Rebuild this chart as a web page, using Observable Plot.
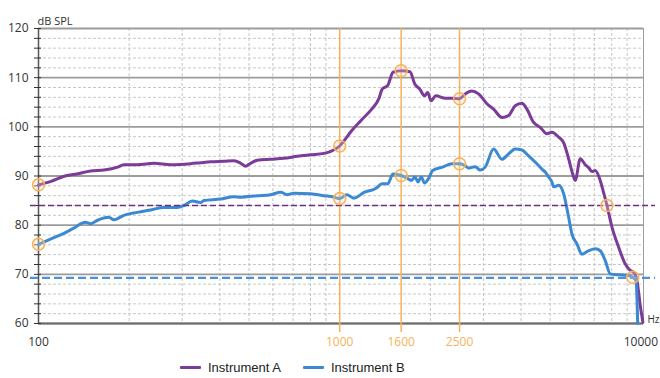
<!DOCTYPE html>
<html>
<head>
<meta charset="utf-8">
<script src="https://cdn.jsdelivr.net/npm/d3@7"></script>
<script src="https://cdn.jsdelivr.net/npm/@observablehq/plot@0.6"></script>
<style>
  body { margin: 0; background: #fff; }
  #chart { width: 660px; height: 378px; position: relative; overflow: hidden; }
  .legend { position: absolute; left: 180px; top: 360px; display: flex; align-items: center;
            font: 13px "Liberation Sans", Arial, sans-serif; color: #222; }
  .legend .item { display: flex; align-items: center; margin-right: 22px; }
  .legend .sw { width: 21px; height: 3px; margin-right: 7px; border-radius: 1px; }
</style>
</head>
<body>
<div id="chart"></div>
<script>
// Frequency response, Instrument A
const hzA = [100,110,121,134,149,165,183,192,213,242,275,320,345,373,413,446,469,487,506,533,
  590,653,724,801,887,934,1000,1056,1085,1177,1277,1348,1385,1443,1503,1600,1711,1776,1843,1913,
  1960,2009,2085,2246,2361,2500,2610,2746,2891,3081,3243,3456,3638,3826,4027,4184,4403,4631,4875,5064,
  5331,5539,5755,5979,6053,6289,6534,6706,6878,7053,7327,7520,7713,8016,8436,8874,9221,9464,9705,9969,10150];
const dbA = [88.2,88.9,89.9,90.4,91.0,91.2,91.8,92.3,92.3,92.6,92.3,92.5,92.7,92.9,93.0,93.1,92.6,92.0,92.6,93.2,
  93.4,93.6,94.0,94.3,94.6,95.0,96.1,97.9,98.9,101.3,103.6,105.7,107.7,108.4,111.1,111.4,111.2,108.7,107.7,106.3,
  107.0,105.3,106.3,105.8,105.8,105.7,106.7,107.3,106.7,104.7,103.6,101.9,102.3,104.3,104.8,103.6,100.9,99.9,98.6,98.9,
  97.9,96.8,93.5,89.8,89.1,93.5,92.3,91.7,90.9,91.1,89.1,86.6,84.0,79.6,75.5,72.1,70.8,70.4,68.7,63.3,60.3];

// Frequency response, Instrument B
const hzB = [100,110,121,131,143,149,157,171,178,192,213,236,261,289,304,324,345,354,402,446,
  469,533,590,637,670,705,801,887,957,1000,1056,1114,1209,1312,1385,1443,1503,1600,1668,1731,
  1776,1820,1865,1913,1985,2035,2192,2361,2500,2610,2678,2817,2927,3041,3243,3456,3638,3826,4027,4238,
  4515,4691,4811,4938,5064,5131,5331,5539,5755,5902,6132,6371,6706,7053,7327,7613,7911,8436,8990,9392,9632,9758];
const dbB = [76.1,77.2,78.3,79.4,80.6,80.3,81.0,81.6,81.1,82.0,82.6,83.1,83.6,83.6,84.0,84.9,84.6,85.0,85.3,85.8,
  85.7,86.0,86.2,86.7,86.2,86.5,86.4,86.0,85.7,85.4,86.2,85.5,86.7,87.4,88.4,88.4,90.4,90.1,89.6,89.1,
  89.8,88.8,89.8,88.6,89.8,91.1,91.8,92.5,92.5,92.1,91.6,91.9,91.2,91.8,95.5,93.4,94.5,95.5,95.3,94.1,
  92.5,91.4,90.8,89.8,88.8,87.8,88.1,86.4,81.6,78.2,76.2,74.1,74.8,75.2,74.8,72.8,70.1,69.9,69.8,69.4,68.7,60.0];

// Reference levels (dashed) and marked frequencies
const refA = 84;
const refB = 69.3;
const markerHz = [1000, 1600, 2500];
const endHz = [100, 10000];
const circled = [["A",100],["B",100],["A",1000],["B",1000],["A",1600],["B",1600],["A",2500],["B",2500],["A",7713],["B",9392]];

// Axis ticks and grid
const majorDb = [60,70,80,90,100,110,120];
const stepDb = d3.range(60, 121, 2);
const minorDb = stepDb.filter(d => d % 10 !== 0);
const gridHz = [200,300,400,500,600,700,800,900,2000,3000,4000,5000,6000,7000,8000,9000];

const colorA = "#7a3b99";
const colorB = "#3b88d3";
const orange = "#f6b25a";

const rowsA = hzA.map((hz, i) => ({hz, db: dbA[i]}));
const rowsB = hzB.map((hz, i) => ({hz, db: dbB[i]}));
const lookup = {A: rowsA, B: rowsB};
const circles = circled.map(([s, hz]) => ({hz, db: lookup[s].find(r => r.hz === hz).db}));

const chart = Plot.plot({
  width: 660,
  height: 358,
  marginLeft: 38,
  marginRight: 17,
  marginTop: 28,
  marginBottom: 35,
  x: {type: "log", domain: [100, 10200], axis: null},
  y: {domain: [60, 120], axis: null},
  style: {fontFamily: "'Open Sans', sans-serif", fontSize: "12px", color: "#333", background: "#fff"},
  marks: [
    Plot.ruleY(minorDb, {stroke: "#c8c8c8", strokeDasharray: "3,2", strokeWidth: 1}),
    Plot.ruleX(gridHz, {stroke: "#c4c4c4", strokeDasharray: "3,2", strokeWidth: 1}),
    Plot.ruleY(majorDb, {stroke: "#9c9c9c", strokeWidth: 1.8}),
    Plot.frame({stroke: "#9c9c9c", strokeWidth: 1}),
    Plot.ruleY([60], {stroke: "#6e6e6e", strokeWidth: 2}),
    Plot.ruleX([100], {stroke: "#555", strokeWidth: 1.5}),
    Plot.axisY(stepDb, {tickSize: 7, dx: 3, tickFormat: () => "", stroke: "#333", label: null}),
    Plot.axisY(majorDb, {tickSize: 0, tickPadding: 10, label: null, fill: "#333", fontSize: 12}),
    Plot.axisX(endHz, {tickSize: 0, tickPadding: 14, tickFormat: d => String(d), label: null, fill: "#333", fontSize: 12}),
    Plot.axisX(markerHz, {tickSize: 0, tickPadding: 14, tickFormat: d => String(d), label: null, fill: orange, fontSize: 12}),
    Plot.ruleX(markerHz, {stroke: orange, strokeWidth: 1.5, insetBottom: -9}),
    Plot.line(rowsA, {x: "hz", y: "db", stroke: colorA, strokeWidth: 3, strokeLinejoin: "round", curve: "monotone-x"}),
    Plot.line(rowsB, {x: "hz", y: "db", stroke: colorB, strokeWidth: 3, strokeLinejoin: "round", curve: "monotone-x"}),
    Plot.ruleY([refA], {stroke: "#6c2d88", strokeWidth: 1.3, strokeDasharray: "6,3", insetLeft: -8, insetRight: -12}),
    Plot.ruleY([refB], {stroke: "#4a92dc", strokeWidth: 2.2, strokeDasharray: "8,4", insetLeft: -8, insetRight: -12}),
    Plot.dot(circles, {x: "hz", y: "db", r: 6, stroke: orange, strokeWidth: 1.5, fill: "#fbd7a8", fillOpacity: 0.3}),
    Plot.text(["dB SPL"], {frameAnchor: "top-left", dy: -11, dx: -1, textAnchor: "start", fill: "#333", fontSize: 11}),
    Plot.text(["Hz"], {frameAnchor: "bottom-right", dx: 4, dy: -1, textAnchor: "start", fontSize: 10, fill: "#333"})
  ]
});

const root = document.getElementById("chart");
root.appendChild(chart);

const legend = document.createElement("div");
legend.className = "legend";
for (const [name, color] of [["Instrument A", colorA], ["Instrument B", colorB]]) {
  const item = document.createElement("div");
  item.className = "item";
  const sw = document.createElement("span");
  sw.className = "sw";
  sw.style.background = color;
  const label = document.createElement("span");
  label.textContent = name;
  item.append(sw, label);
  legend.appendChild(item);
}
root.appendChild(legend);
</script>
</body>
</html>
